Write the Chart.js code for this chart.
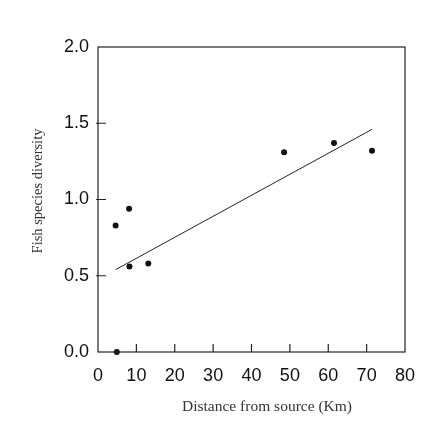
<!DOCTYPE html>
<html><head><meta charset="utf-8">
<script src="https://cdn.jsdelivr.net/npm/chart.js@4/dist/chart.umd.min.js"></script>
<style>html,body{margin:0;padding:0;background:#fff;}#wrap{width:448px;height:431px;}</style>
</head><body><div id="wrap"><canvas id="c" width="448" height="431"></canvas></div>
<script>
const distanceKm = [4.6, 8.1, 8.2, 13.1, 4.9, 48.5, 61.5, 71.4];
const diversity  = [0.83, 0.94, 0.56, 0.58, 0.00, 1.31, 1.37, 1.32];
const fitX = [4.6, 71.4];
const fitY = [0.54, 1.46];
const xTicks = [0,10,20,30,40,50,60,70,80];
const yTicks = [0.0,0.5,1.0,1.5,2.0];
const xTitle = 'Distance from source (Km)';
const yTitle = 'Fish species diversity';

const framePlugin = {
  id:'frame',
  afterDraw(chart){
    const {ctx, chartArea:a, scales:{x,y}} = chart;
    ctx.save();
    ctx.strokeStyle='#222'; ctx.lineWidth=1.2;
    ctx.strokeRect(a.left, a.top, a.right-a.left, a.bottom-a.top);
    ctx.beginPath();
    xTicks.slice(1,-1).forEach(v=>{const px=x.getPixelForValue(v); ctx.moveTo(px,a.bottom); ctx.lineTo(px,a.bottom-8);});
    yTicks.slice(1,-1).forEach(v=>{const py=y.getPixelForValue(v); ctx.moveTo(a.left-2,py); ctx.lineTo(a.left+8,py);});
    ctx.stroke();
    ctx.fillStyle='#333';
    ctx.font='15.5px "Liberation Serif", "DejaVu Serif", serif';
    ctx.textAlign='center'; ctx.textBaseline='middle';
    ctx.fillText(xTitle, 267, 407);
    ctx.translate(38,191); ctx.rotate(-Math.PI/2);
    ctx.font='14.5px "Liberation Serif", "DejaVu Serif", serif';
    ctx.fillText(yTitle, 0, 0);
    ctx.restore();
  }
};

new Chart(document.getElementById('c'), {
  type:'scatter',
  data:{datasets:[
    {data: distanceKm.map((v,i)=>({x:v,y:diversity[i]})), backgroundColor:'#111', borderColor:'#111', pointRadius:3, pointBorderWidth:0, clip:false},
    {type:'line', data: fitX.map((v,i)=>({x:v,y:fitY[i]})), borderColor:'#222', borderWidth:1, pointRadius:0, fill:false, tension:0}
  ]},
  options:{
    responsive:false, animation:false,
    layout:{padding:{top:47,right:43,left:0,bottom:0}},
    plugins:{legend:{display:false}, tooltip:{enabled:false}},
    scales:{
      x:{type:'linear', min:0, max:80,
        afterBuildTicks(s){s.ticks = xTicks.map(v=>({value:v}));},
        afterFit(s){s.height=79;},
        grid:{display:false}, border:{display:false},
        ticks:{padding:5, color:'#111', font:{family:'"Liberation Sans", Arial, sans-serif', size:18}}
      },
      y:{type:'linear', min:0, max:2,
        afterBuildTicks(s){s.ticks = yTicks.map(v=>({value:v}));},
        afterFit(s){s.width=98;},
        grid:{display:false}, border:{display:false},
        ticks:{padding:1, color:'#111', callback:v=>v.toFixed(1), font:{family:'"Liberation Sans", Arial, sans-serif', size:18}}
      }
    }
  },
  plugins:[framePlugin]
});
</script></body></html>
